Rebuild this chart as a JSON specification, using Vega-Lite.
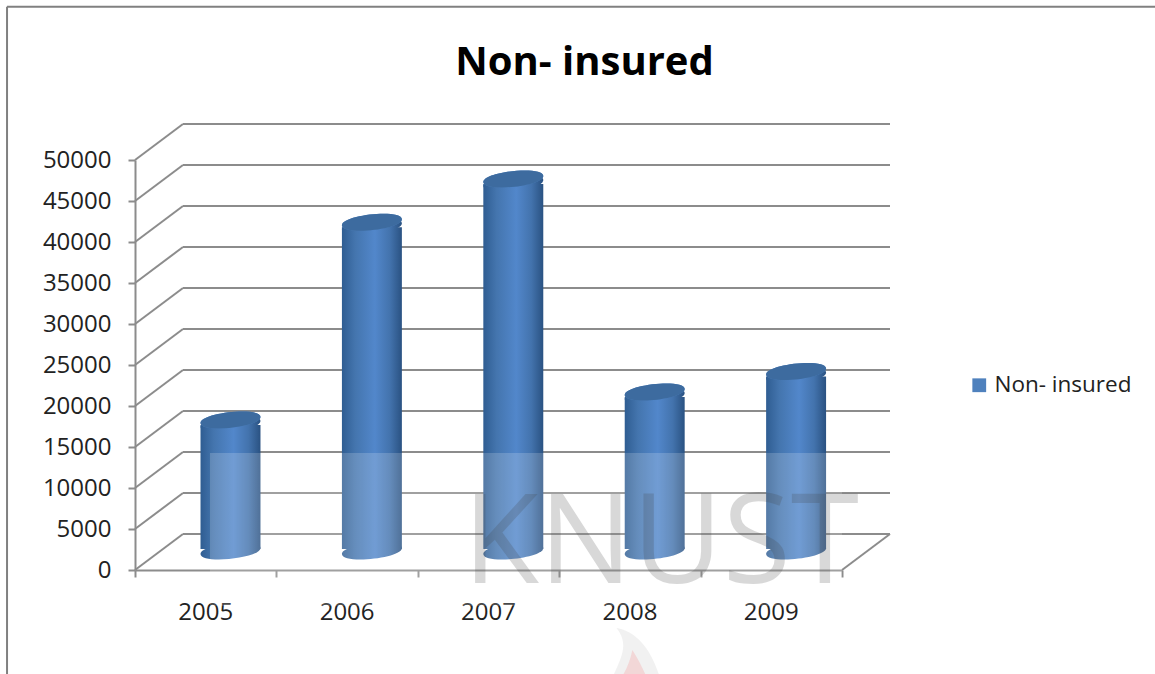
{
  "$schema": "https://vega.github.io/schema/vega-lite/v6.json",
  "width": 707,
  "height": 410,
  "autosize": "none",
  "padding": {"left": 135, "top": 160, "right": 313, "bottom": 104},
  "background": "white",
  "title": {
    "text": "Non- insured",
    "font": "Open Sans",
    "fontSize": 40,
    "fontWeight": "bold",
    "color": "#000000",
    "anchor": "middle",
    "dx": 96,
    "dy": 77,
    "offset": 0
  },
  "config": {"view": {"stroke": null}},
  "datasets": {
    "levels": [
      {"level": 0}, {"level": 5000}, {"level": 10000}, {"level": 15000},
      {"level": 20000}, {"level": 25000}, {"level": 30000}, {"level": 35000},
      {"level": 40000}, {"level": 45000}, {"level": 50000}
    ],
    "claims": [
      {"year": "2005", "series": "Non- insured", "value": 16100},
      {"year": "2006", "series": "Non- insured", "value": 40200},
      {"year": "2007", "series": "Non- insured", "value": 45500},
      {"year": "2008", "series": "Non- insured", "value": 19500},
      {"year": "2009", "series": "Non- insured", "value": 22000}
    ]
  },
  "resolve": {"scale": {"x": "independent"}},
  "layer": [
    {
      "layer": [
        {
          "data": {"name": "levels"},
          "mark": {"type": "rule", "color": "#8c8c8c", "strokeWidth": 2, "xOffset": 48, "x2Offset": 48, "yOffset": -36},
          "encoding": {
            "x": {
              "datum": 0,
              "type": "quantitative",
              "scale": {"domain": [0, 5], "nice": false, "zero": false},
              "axis": {
                "orient": "bottom", "values": [0, 1, 2, 3, 4, 5], "labels": false, "title": null, "grid": false,
                "domainColor": "#8c8c8c", "domainWidth": 2, "tickColor": "#8c8c8c", "tickWidth": 2, "tickSize": 7
              }
            },
            "x2": {"datum": 5},
            "y": {
              "field": "level",
              "type": "quantitative",
              "scale": {"domain": [0, 50000], "nice": false},
              "axis": {
                "values": [0, 5000, 10000, 15000, 20000, 25000, 30000, 35000, 40000, 45000, 50000],
                "format": "d", "title": null, "grid": false,
                "domainColor": "#8c8c8c", "domainWidth": 2, "tickColor": "#8c8c8c", "tickWidth": 2, "tickSize": 7,
                "labelFont": "Open Sans", "labelFontSize": 24, "labelColor": "#222222", "labelPadding": 17
              }
            }
          }
        },
        {
          "data": {"name": "levels"},
          "mark": {"type": "rule", "color": "#8c8c8c", "strokeWidth": 2, "x2Offset": 48, "y2Offset": -36},
          "encoding": {
            "x": {"datum": 0, "type": "quantitative"},
            "x2": {"datum": 0},
            "y": {"field": "level", "type": "quantitative"},
            "y2": {"field": "level"}
          }
        },
        {
          "data": {"values": [{"level": 0}]},
          "mark": {"type": "rule", "color": "#8c8c8c", "strokeWidth": 2, "x2Offset": 48, "y2Offset": -36},
          "encoding": {
            "x": {"datum": 5, "type": "quantitative"},
            "x2": {"datum": 5},
            "y": {"field": "level", "type": "quantitative"},
            "y2": {"field": "level"}
          }
        }
      ]
    },
    {
      "data": {"name": "claims"},
      "encoding": {
        "x": {
          "field": "year",
          "type": "ordinal",
          "sort": null,
          "scale": {"paddingInner": 0.576, "paddingOuter": 0.288},
          "axis": {
            "orient": "bottom", "title": null, "labelAngle": 0, "ticks": false, "domain": false,
            "labelFont": "Open Sans", "labelFontSize": 24, "labelColor": "#222222", "labelPadding": 30
          }
        }
      },
      "layer": [
        {
          "mark": {
            "type": "point", "filled": true, "opacity": 1, "size": 3600, "xOffset": 24.8, "yOffset": -19,
            "shape": "M-1,0.1 C-1,-0.25 1,-0.45 1,-0.1 C1,0.25 -1,0.45 -1,0.1 Z",
            "color": {
              "gradient": "linear", "x1": 0, "x2": 1, "y1": 0, "y2": 0,
              "stops": [
                {"offset": 0, "color": "#2f5d92"}, {"offset": 0.22, "color": "#4475ae"},
                {"offset": 0.55, "color": "#5287cb"}, {"offset": 0.8, "color": "#4373ad"},
                {"offset": 1, "color": "#2a5282"}
              ]
            }
          },
          "encoding": {"y": {"datum": 0, "type": "quantitative"}}
        },
        {
          "mark": {
            "type": "bar", "yOffset": -13, "y2Offset": -21, "xOffset": 24.8, "x2Offset": 24.8,
            "color": {
              "gradient": "linear", "x1": 0, "x2": 1, "y1": 0, "y2": 0,
              "stops": [
                {"offset": 0, "color": "#2f5d92"}, {"offset": 0.22, "color": "#4475ae"},
                {"offset": 0.55, "color": "#5287cb"}, {"offset": 0.8, "color": "#4373ad"},
                {"offset": 1, "color": "#2a5282"}
              ]
            }
          },
          "encoding": {
            "y": {"field": "value", "type": "quantitative"},
            "y2": {"datum": 0}
          }
        },
        {
          "mark": {
            "type": "point", "filled": true, "opacity": 1, "size": 3600, "xOffset": 24.8, "yOffset": -14,
            "shape": "M-1,0.1 C-1,-0.25 1,-0.45 1,-0.1 C1,0.25 -1,0.45 -1,0.1 Z",
            "color": {
              "gradient": "linear", "x1": 0, "x2": 1, "y1": 0, "y2": 0,
              "stops": [
                {"offset": 0, "color": "#2f5d92"}, {"offset": 0.22, "color": "#4475ae"},
                {"offset": 0.55, "color": "#5287cb"}, {"offset": 0.8, "color": "#4373ad"},
                {"offset": 1, "color": "#2a5282"}
              ]
            }
          },
          "encoding": {"y": {"field": "value", "type": "quantitative"}}
        },
        {
          "mark": {
            "type": "point", "filled": true, "opacity": 1, "size": 3600, "xOffset": 24.8, "yOffset": -18,
            "shape": "M-1,0.1 C-1,-0.25 1,-0.45 1,-0.1 C1,0.25 -1,0.45 -1,0.1 Z"
          },
          "encoding": {
            "y": {"field": "value", "type": "quantitative"},
            "color": {
              "field": "series",
              "type": "nominal",
              "scale": {"domain": ["Non- insured"], "range": ["#4f81bd"]},
              "legend": {
                "orient": "none", "legendX": 833, "legendY": 214, "title": null,
                "symbolType": "square", "symbolSize": 190, "symbolStrokeWidth": 0,
                "labelFont": "Open Sans", "labelFontSize": 22.5, "labelColor": "#222222", "labelOffset": 4
              }
            }
          }
        },
        {
          "mark": {
            "type": "point", "filled": true, "opacity": 1, "size": 3600, "xOffset": 24.8, "yOffset": -18,
            "shape": "M-1,0.1 C-1,-0.25 1,-0.45 1,-0.1 C1,0.25 -1,0.45 -1,0.1 Z",
            "color": "#3d6b9f"
          },
          "encoding": {"y": {"field": "value", "type": "quantitative"}}
        }
      ]
    },
    {
      "layer": [
        {
          "data": {"values": [{"label": "veil"}]},
          "mark": {"type": "rect", "color": "#ffffff", "opacity": 0.18},
          "encoding": {
            "x": {"datum": 0.53, "type": "quantitative", "scale": {"domain": [0, 5], "nice": false, "zero": false}, "axis": null},
            "x2": {"datum": 5},
            "y": {"datum": 14270, "type": "quantitative"},
            "y2": {"datum": -4380}
          }
        },
        {
          "data": {"values": [{"label": "KNUST"}]},
          "mark": {"type": "text", "font": "Open Sans", "fontWeight": 400, "fontSize": 124, "color": "#404040", "opacity": 0.2, "align": "center", "baseline": "alphabetic"},
          "encoding": {
            "x": {"datum": 3.72, "type": "quantitative"},
            "y": {"datum": -1600, "type": "quantitative"},
            "text": {"field": "label"}
          }
        },
        {
          "data": {"values": [{"label": "crest"}]},
          "mark": {"type": "point", "filled": true, "opacity": 0.1, "color": "#777777", "size": 6400,
            "shape": "M-0.6,1 C-0.3,0.2 0.1,-0.2 -0.3,-0.7 C0.3,-0.6 0.7,0 0.9,1 Z"},
          "encoding": {
            "x": {"datum": 3.49, "type": "quantitative"},
            "y": {"datum": -10490, "type": "quantitative"}
          }
        },
        {
          "data": {"values": [{"label": "crest"}]},
          "mark": {"type": "point", "filled": true, "opacity": 0.35, "color": "#f4a6a6", "size": 2500,
            "shape": "M-1,1 C-0.6,0.4 -0.1,0 0.1,-1 C0.6,-0.2 0.8,0.4 1,1 Z"},
          "encoding": {
            "x": {"datum": 3.5, "type": "quantitative"},
            "y": {"datum": -12810, "type": "quantitative"}
          }
        },
        {
          "data": {"values": [{"label": "frame"}]},
          "mark": {"type": "rule", "color": "#808080", "strokeWidth": 2},
          "encoding": {
            "x": {"datum": -0.905, "type": "quantitative"},
            "x2": {"datum": 7.22},
            "y": {"datum": 68680, "type": "quantitative"}
          }
        },
        {
          "data": {"values": [{"label": "frame"}]},
          "mark": {"type": "rule", "color": "#808080", "strokeWidth": 2},
          "encoding": {
            "x": {"datum": -0.905, "type": "quantitative"},
            "y": {"datum": 68680, "type": "quantitative"},
            "y2": {"datum": -12800}
          }
        }
      ]
    }
  ]
}
